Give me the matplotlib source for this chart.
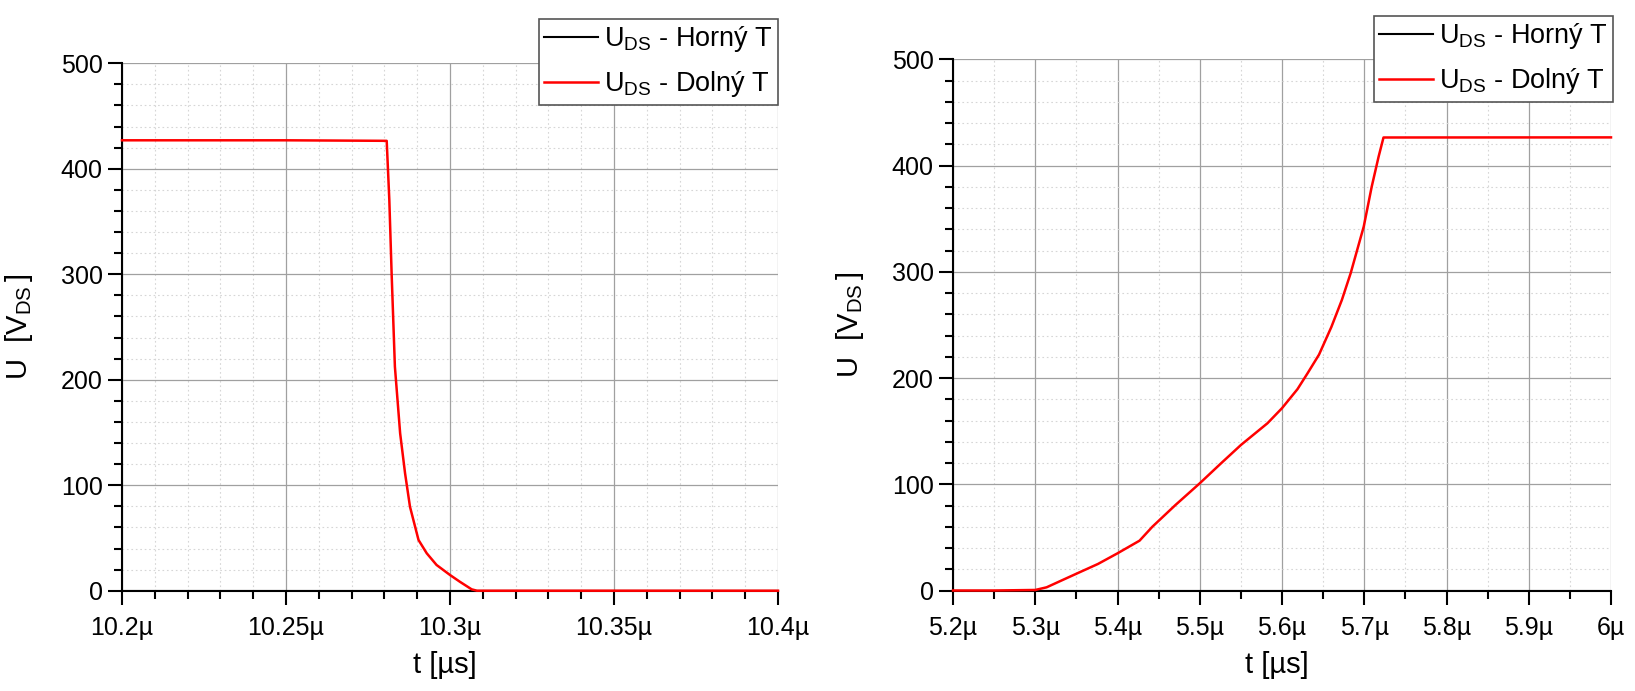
import matplotlib
matplotlib.use('Agg')
import matplotlib.pyplot as plt
import numpy as np

plt.rcParams['font.family'] = ['Liberation Sans', 'DejaVu Sans']
plt.rcParams['mathtext.fontset'] = 'custom'
plt.rcParams['mathtext.rm'] = 'Liberation Sans'
plt.rcParams['mathtext.it'] = 'Liberation Sans:italic'

# left panel: turn-off of the lower transistor (time in us, voltage in V)
t_off = [10.2, 10.25, 10.2807, 10.2815, 10.2822, 10.2832, 10.2848, 10.2863, 10.2878,
         10.2904, 10.2929, 10.2959, 10.3000, 10.3030, 10.3066, 10.3082, 10.4]
u_off_dolny = [427.0, 427.0, 426.5, 370.4, 300.9, 212.4, 149.2, 111.3, 79.6,
               48.1, 35.5, 24.4, 14.9, 8.5, 1.3, 0.0, 0.0]
u_off_horny = [0.0, 0.0]
t_off_horny = [10.2, 10.4]

# right panel: turn-on
t_on = [5.2, 5.25, 5.3, 5.3138, 5.3333, 5.3529, 5.3763, 5.4, 5.4268, 5.4425, 5.4705,
        5.5, 5.526, 5.5501, 5.5823, 5.6, 5.6188, 5.6311, 5.645, 5.66, 5.6728,
        5.6835, 5.6994, 5.7091, 5.7175, 5.7234, 6.0]
u_on_dolny = [0.0, 0.0, 0.5, 3.0, 9.9, 16.8, 25.0, 35.0, 46.9, 60.1, 80.5,
              100.9, 119.8, 137.0, 157.4, 171.6, 189.5, 204.5, 222.0, 248.0, 273.5,
              298.7, 342.6, 380.2, 408.5, 426.4, 426.5]
u_on_horny = [0.0, 0.0]
t_on_horny = [5.2, 6.0]

xt_off = [10.2, 10.25, 10.3, 10.35, 10.4]
xl_off = ['10.2µ', '10.25µ', '10.3µ', '10.35µ', '10.4µ']
xt_on = [5.2, 5.3, 5.4, 5.5, 5.6, 5.7, 5.8, 5.9, 6.0]
xl_on = ['5.2µ', '5.3µ', '5.4µ', '5.5µ', '5.6µ', '5.7µ', '5.8µ', '5.9µ', '6µ']
yt = [0, 100, 200, 300, 400, 500]

lab_horny = 'U$_{\\mathregular{DS}}$ - Horný T'
lab_dolny = 'U$_{\\mathregular{DS}}$ - Dolný T'

fig = plt.figure(figsize=(16.35, 6.91), dpi=100)
ax1 = fig.add_axes([122/1635, 1-590.7/691, 656/1635, 527.4/691])
ax2 = fig.add_axes([953/1635, 1-590.5/691, 658/1635, 531.2/691])

panels = [
    (ax1, t_off_horny, u_off_horny, t_off, u_off_dolny, xt_off, xl_off, (10.2, 10.4), 0.01, 778, 19),
    (ax2, t_on_horny, u_on_horny, t_on, u_on_dolny, xt_on, xl_on, (5.2, 6.0), 0.05, 1613, 16),
]

for ax, th, uh, td, ud, xt, xl, xlim, xminor, leg_r, leg_t in panels:
    ax.plot(th, uh, color='black', lw=1.5, label=lab_horny, zorder=3)
    ax.plot(td, ud, color='#ff0000', lw=1.8, label=lab_dolny, zorder=4, clip_on=False)
    ax.set_xlim(*xlim)
    ax.set_ylim(0, 500)
    ax.set_xticks(xt, xl)
    ax.set_yticks(yt)
    ax.set_xticks(np.arange(xlim[0], xlim[1] + 1e-9, xminor), minor=True)
    ax.set_yticks(np.arange(0, 501, 20), minor=True)
    ax.grid(which='major', color='#a0a0a0', lw=0.9)
    ax.grid(which='minor', color='#d6d6d6', lw=0.8, ls=(0, (1.5, 2.5)))
    ax.set_axisbelow(True)
    for s in ['top', 'right']:
        ax.spines[s].set_visible(False)
    for s in ['left', 'bottom']:
        ax.spines[s].set_linewidth(1.5)
    ax.tick_params(which='major', direction='out', length=10, width=1.5, labelsize=18)
    ax.tick_params(axis='x', which='major', pad=8)
    ax.tick_params(axis='y', which='major', pad=4)
    ax.tick_params(which='minor', direction='out', length=5.5, width=1.5)
    ax.set_xlabel('t [µs]', fontsize=21)
    ax.set_ylabel('U  [V$_{\\mathregular{DS}}\\,$]', fontsize=21)
    ax.xaxis.set_label_coords(0.492, -0.14)
    ax.xaxis.label.set_va('center')
    ax.yaxis.set_label_coords(-0.157, 0.5)
    ax.yaxis.label.set_va('center')
    leg = ax.legend(loc='upper right', bbox_to_anchor=(leg_r/1635, 1-leg_t/691),
                    bbox_transform=fig.transFigure, fontsize=19.5, frameon=True,
                    fancybox=False, framealpha=1, edgecolor='#555555',
                    borderpad=0.2, handlelength=2.0, handletextpad=0.2,
                    labelspacing=0.55, borderaxespad=0)
    leg.get_frame().set_linewidth(1.2)

fig.savefig('out.png', dpi=100)
